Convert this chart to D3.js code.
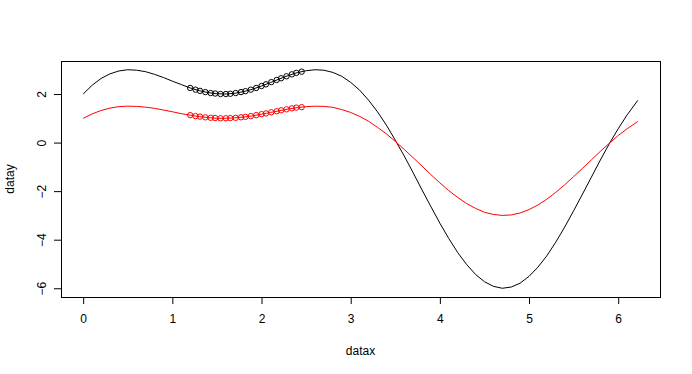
<!DOCTYPE html>
<html>
<head>
<meta charset="utf-8">
<script src="https://cdn.jsdelivr.net/npm/d3@7"></script>
<style>
  body { margin: 0; background: #fff; }
  text { font-family: "Liberation Sans", Arial, sans-serif; font-size: 12px; fill: #000; }
</style>
</head>
<body>
<div id="chart"></div>
<script>
// x positions of the curves
const datax = [0.0, 0.1, 0.2, 0.3, 0.4, 0.5, 0.6, 0.7, 0.8, 0.9,
  1.0, 1.1, 1.2, 1.3, 1.4, 1.5, 1.6, 1.7, 1.8, 1.9,
  2.0, 2.1, 2.2, 2.3, 2.4, 2.5, 2.6, 2.7, 2.8, 2.9,
  3.0, 3.1, 3.2, 3.3, 3.4, 3.5, 3.6, 3.7, 3.8, 3.9,
  4.0, 4.1, 4.2, 4.3, 4.4, 4.5, 4.6, 4.7, 4.8, 4.9,
  5.0, 5.1, 5.2, 5.3, 5.4, 5.5, 5.6, 5.7, 5.8, 5.9,
  6.0, 6.1, 6.22];

// black curve
const blackY = [2.00, 2.36, 2.64, 2.83, 2.95, 3.00, 2.98, 2.92, 2.81, 2.68,
  2.53, 2.39, 2.25, 2.14, 2.06, 2.01, 2.00, 2.03, 2.10, 2.20,
  2.33, 2.47, 2.62, 2.76, 2.88, 2.96, 3.00, 2.98, 2.89, 2.73,
  2.48, 2.16, 1.75, 1.27, 0.72, 0.10, -0.55, -1.24, -1.95, -2.64,
  -3.32, -3.95, -4.53, -5.02, -5.43, -5.73, -5.92, -6.00, -5.95, -5.79,
  -5.51, -5.13, -4.66, -4.10, -3.48, -2.81, -2.12, -1.42, -0.72, -0.05,
  0.57, 1.14, 1.74];

// red curve
const redY = [1.00, 1.18, 1.32, 1.42, 1.48, 1.50, 1.49, 1.46, 1.41, 1.34,
  1.27, 1.19, 1.13, 1.07, 1.03, 1.00, 1.00, 1.02, 1.05, 1.10,
  1.17, 1.24, 1.31, 1.38, 1.44, 1.48, 1.50, 1.49, 1.45, 1.36,
  1.24, 1.08, 0.88, 0.63, 0.36, 0.05, -0.28, -0.62, -0.97, -1.32,
  -1.66, -1.98, -2.26, -2.51, -2.71, -2.87, -2.96, -3.00, -2.98, -2.90,
  -2.76, -2.57, -2.33, -2.05, -1.74, -1.40, -1.06, -0.71, -0.36, -0.03,
  0.29, 0.57, 0.87];

// circled points
const pointX = [1.20, 1.26, 1.31, 1.37, 1.43, 1.48, 1.54, 1.60, 1.65, 1.71,
  1.77, 1.82, 1.88, 1.94, 2.00, 2.05, 2.11, 2.17, 2.22, 2.28,
  2.34, 2.39, 2.45];
const pointBlackY = [2.25, 2.18, 2.13, 2.08, 2.04, 2.02, 2.00, 2.00, 2.01, 2.04,
  2.08, 2.12, 2.18, 2.25, 2.33, 2.40, 2.49, 2.58, 2.65, 2.73,
  2.81, 2.87, 2.92];
const pointRedY = [1.13, 1.09, 1.07, 1.04, 1.02, 1.01, 1.00, 1.00, 1.01, 1.02,
  1.04, 1.06, 1.09, 1.13, 1.17, 1.20, 1.25, 1.29, 1.33, 1.37,
  1.41, 1.44, 1.46];

const xTicks = [0, 1, 2, 3, 4, 5, 6];
const yTicks = [-6, -4, -2, 0, 2];

const width = 692, height = 374;
const plot = { left: 61, right: 660, top: 61, bottom: 297 };

const svg = d3.select("#chart").append("svg")
  .attr("width", width)
  .attr("height", height);

// R style 4% padding on each side
const xr = d3.extent(datax), yr = [d3.min(blackY), d3.max(blackY)];
const xpad = (xr[1] - xr[0]) * 0.04, ypad = (yr[1] - yr[0]) * 0.04;

const x = d3.scaleLinear().domain([xr[0] - xpad, xr[1] + xpad]).range([plot.left, plot.right]);
const y = d3.scaleLinear().domain([yr[0] - ypad, yr[1] + ypad]).range([plot.bottom, plot.top]);

const line = d3.line()
  .x(d => x(d[0]))
  .y(d => y(d[1]));

svg.append("path")
  .datum(d3.zip(datax, blackY))
  .attr("d", line)
  .attr("fill", "none")
  .attr("stroke", "#000")
  .attr("stroke-width", 1);

svg.append("path")
  .datum(d3.zip(datax, redY))
  .attr("d", line)
  .attr("fill", "none")
  .attr("stroke", "#ff0000")
  .attr("stroke-width", 1);

svg.selectAll("circle.black")
  .data(d3.zip(pointX, pointBlackY))
  .enter().append("circle")
  .attr("class", "black")
  .attr("cx", d => x(d[0]))
  .attr("cy", d => y(d[1]))
  .attr("r", 2.7)
  .attr("fill", "none")
  .attr("stroke", "#000");

svg.selectAll("circle.red")
  .data(d3.zip(pointX, pointRedY))
  .enter().append("circle")
  .attr("class", "red")
  .attr("cx", d => x(d[0]))
  .attr("cy", d => y(d[1]))
  .attr("r", 2.7)
  .attr("fill", "none")
  .attr("stroke", "#ff0000");

// axes
const xAxis = svg.append("g")
  .attr("transform", `translate(0,${plot.bottom})`)
  .call(d3.axisBottom(x).tickValues(xTicks).tickSize(7).tickPadding(10).tickFormat(d3.format("d")));
const yAxis = svg.append("g")
  .attr("transform", `translate(${plot.left},0)`)
  .call(d3.axisLeft(y).tickValues(yTicks).tickSize(7).tickPadding(0).tickFormat(d3.format("d")));

[xAxis, yAxis].forEach(g => {
  g.select(".domain").remove();
  g.selectAll("line").attr("stroke", "#000");
  g.selectAll("text").style("font-size", "12px").attr("fill", "#000");
});

// rotated y tick labels like R
yAxis.selectAll(".tick text")
  .attr("x", null).attr("dy", null)
  .attr("text-anchor", "middle")
  .attr("transform", "translate(-19,0) rotate(-90) translate(0,4)");

// box
svg.append("rect")
  .attr("x", plot.left + 0.5).attr("y", plot.top + 0.5)
  .attr("width", plot.right - plot.left).attr("height", plot.bottom - plot.top)
  .attr("fill", "none")
  .attr("stroke", "#000");

svg.append("text")
  .attr("x", (plot.left + plot.right) / 2)
  .attr("y", 355)
  .attr("text-anchor", "middle")
  .text("datax");

svg.append("text")
  .attr("transform", `translate(14,${(plot.top + plot.bottom) / 2}) rotate(-90)`)
  .attr("text-anchor", "middle")
  .text("datay");
</script>
</body>
</html>
